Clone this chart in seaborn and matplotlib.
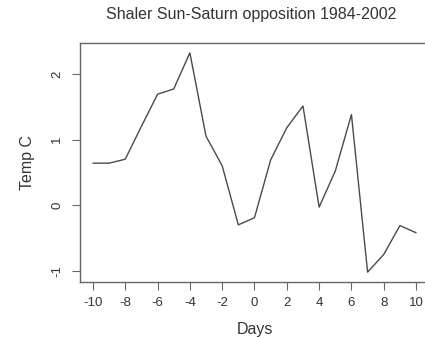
import matplotlib
matplotlib.use("Agg")
import matplotlib.pyplot as plt
import seaborn as sns
import pandas as pd

days = [-10, -9, -8, -7, -6, -5, -4, -3, -2, -1, 0, 1, 2, 3, 4, 5, 6, 7, 8, 9, 10]
temp_c = [0.64, 0.64, 0.70, 1.20, 1.69, 1.77, 2.32, 1.05, 0.60, -0.30, -0.19,
          0.69, 1.18, 1.51, -0.03, 0.52, 1.38, -1.02, -0.75, -0.31, -0.42]
x_ticks = [-10, -8, -6, -4, -2, 0, 2, 4, 6, 8, 10]
y_ticks = [-1, 0, 1, 2]

df = pd.DataFrame({"Days": days, "Temp C": temp_c})

sns.set_style("white")
plt.rcParams["font.family"] = ["Liberation Sans", "DejaVu Sans"]

fig = plt.figure(figsize=(4.25, 3.37), dpi=100)
ax = fig.add_axes([80 / 425, 55 / 337, 349 / 425, 239 / 337])

sns.lineplot(data=df, x="Days", y="Temp C", ax=ax, color="#4a4a4a", linewidth=1.0)

ax.set_xlim(-10.8, 10.8)
ax.set_ylim(-1.17, 2.47)
ax.set_xticks(x_ticks)
ax.set_yticks(y_ticks)
ax.set_xticklabels([str(v) for v in x_ticks])
ax.set_yticklabels([str(v) for v in y_ticks], rotation=90, va="center")

for s in ax.spines.values():
    s.set_color("#666666")
    s.set_linewidth(1.0)

ax.tick_params(axis="both", direction="out", length=6, width=0.8, color="#666666",
               labelsize=9.5, labelcolor="#333333")
ax.tick_params(axis="x", pad=5, bottom=True)
ax.tick_params(axis="y", pad=6, left=True)

ax.set_xlabel("Days", fontsize=11.5, color="#333333", labelpad=9)
ax.set_ylabel("Temp C", fontsize=11.5, color="#333333", labelpad=12)
fig.text(251 / 425, 1 - 15 / 337, "Shaler Sun-Saturn opposition 1984-2002",
         ha="center", va="center", fontsize=11.5, color="#333333")

fig.savefig("out.png", dpi=100)
